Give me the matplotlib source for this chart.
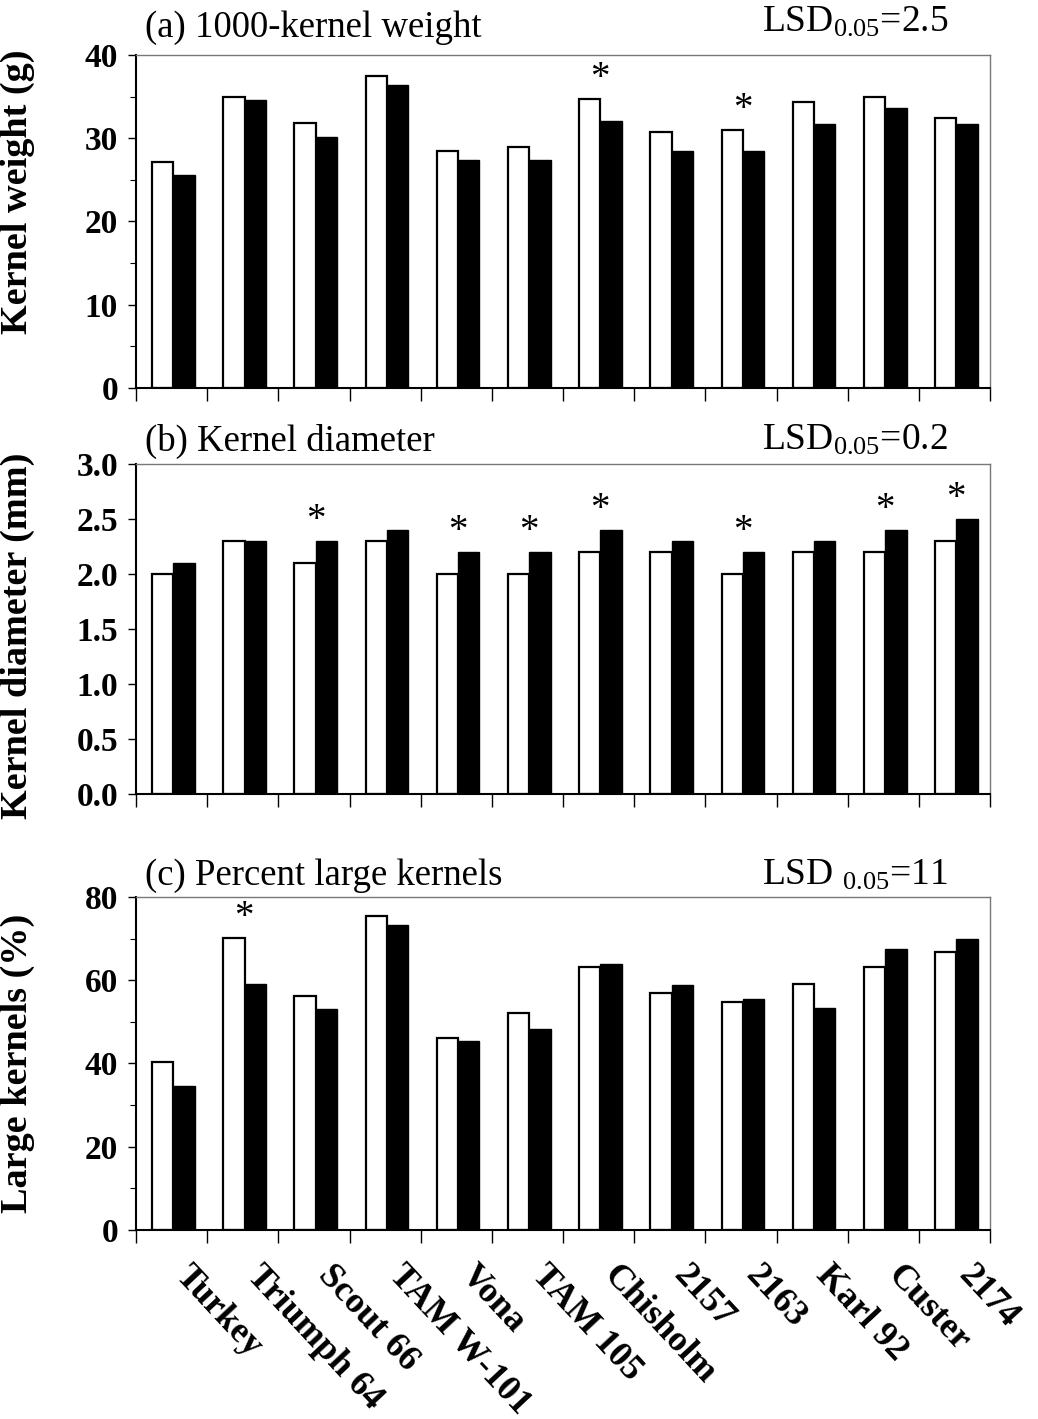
import matplotlib
matplotlib.use("Agg")
import matplotlib.pyplot as plt
import numpy as np
from matplotlib.ticker import FormatStrFormatter

plt.rcParams['font.family'] = ['Liberation Serif', 'DejaVu Serif']
plt.rcParams['mathtext.fontset'] = 'custom'
plt.rcParams['mathtext.rm'] = 'Liberation Serif'
plt.rcParams['mathtext.it'] = 'Liberation Serif:italic'
plt.rcParams['mathtext.bf'] = 'Liberation Serif:bold'

# ---------------- data ----------------
cultivars = ['Turkey', 'Triumph 64', 'Scout 66', 'TAM W-101', 'Vona', 'TAM 105',
             'Chisholm', '2157', '2163', 'Karl 92', 'Custer', '2174']

kw_white = [27.1, 34.9, 31.8, 37.5, 28.5, 28.9, 34.7, 30.7, 31.0, 34.3, 35.0, 32.4]
kw_black = [25.6, 34.6, 30.1, 36.4, 27.4, 27.4, 32.1, 28.4, 28.4, 31.7, 33.6, 31.7]
kw_sig = ['Chisholm', '2163']

kd_white = [2.0, 2.3, 2.1, 2.3, 2.0, 2.0, 2.2, 2.2, 2.0, 2.2, 2.2, 2.3]
kd_black = [2.1, 2.3, 2.3, 2.4, 2.2, 2.2, 2.4, 2.3, 2.2, 2.3, 2.4, 2.5]
kd_sig = ['Scout 66', 'Vona', 'TAM 105', 'Chisholm', '2163', 'Custer', '2174']

lk_white = [40.4, 70.2, 56.2, 75.4, 46.1, 52.1, 63.2, 57.0, 54.7, 59.2, 63.2, 66.7]
lk_black = [34.5, 59.1, 53.1, 73.3, 45.5, 48.3, 63.8, 58.8, 55.6, 53.3, 67.6, 69.9]
lk_sig = ['Triumph 64']

panels = [
    dict(white=kw_white, black=kw_black, sig=kw_sig, title='(a) 1000-kernel weight',
         lsd=r'LSD$_{\mathrm{0.05}}$=2.5', ylabel='Kernel weight (g)',
         ylim=40, major=[0, 10, 20, 30, 40], minor=[5, 15, 25, 35], fmt='%d',
         rect=[0.131, 0.7266, 0.823, 0.2347], title_off=18, lsd_off=23, ylab_y=0.59),
    dict(white=kd_white, black=kd_black, sig=kd_sig, title='(b) Kernel diameter',
         lsd=r'LSD$_{\mathrm{0.05}}$=0.2', ylabel='Kernel diameter (mm)',
         ylim=3.0, major=[0, 0.5, 1.0, 1.5, 2.0, 2.5, 3.0], minor=[], fmt='%.1f',
         rect=[0.131, 0.4405, 0.823, 0.2326], title_off=13, lsd_off=14, ylab_y=0.48),
    dict(white=lk_white, black=lk_black, sig=lk_sig, title='(c) Percent large kernels',
         lsd=r'LSD $_{\mathrm{0.05}}$=11', ylabel='Large kernels (%)',
         ylim=80, major=[0, 20, 40, 60, 80], minor=[10, 30, 50, 70], fmt='%d',
         rect=[0.131, 0.1332, 0.823, 0.2347], title_off=12, lsd_off=12, ylab_y=0.50),
]

fig = plt.figure(figsize=(10.38, 14.19), dpi=100)
n = len(cultivars)
x = np.arange(n)
bw = 0.30

for k, p in enumerate(panels):
    ax = fig.add_axes(p['rect'])
    ax.bar(x + 0.375, p['white'], width=bw, color='white', edgecolor='black', linewidth=1.6)
    ax.bar(x + 0.675, p['black'], width=bw, color='black', edgecolor='black', linewidth=1.0)
    ax.set_xlim(0, n)
    ax.set_ylim(0, p['ylim'])

    # significance asterisks
    for name in p['sig']:
        i = cultivars.index(name)
        top = max(p['white'][i], p['black'][i])
        ax.annotate('*', xy=(i + 0.52, top), xytext=(0, 11), textcoords='offset pixels',
                    ha='center', va='baseline', fontsize=28)

    # y axis
    ax.set_yticks(p['major'])
    ax.set_yticks(p['minor'], minor=True)
    ax.yaxis.set_major_formatter(FormatStrFormatter(p['fmt']))
    ax.tick_params(axis='y', which='major', direction='out', length=6, width=1.0, pad=7,
                   labelsize=24)
    ax.tick_params(axis='y', which='minor', direction='out', length=4, width=0.8)
    for lab in ax.get_yticklabels():
        lab.set_fontweight('bold')
    ax.set_ylabel(p['ylabel'], fontsize=27.5, fontweight='bold')
    ax.yaxis.set_label_coords(-0.118, p['ylab_y'])

    # x axis
    ax.set_xticks(np.arange(n + 1))
    ax.tick_params(axis='x', which='major', direction='out', length=9, width=1.0,
                   labelbottom=False)
    if k == 2:
        ax.set_xticks(x + 0.8, labels=cultivars, minor=True)
        ax.tick_params(axis='x', which='minor', length=0, pad=21)
        for lab in ax.get_xticklabels(minor=True):
            lab.set_rotation(-47)
            lab.set_ha('left')
            lab.set_va('top')
            lab.set_rotation_mode('anchor')
            lab.set_fontweight('bold')
            lab.set_fontsize(26)

    # spines
    for s in ['left', 'bottom']:
        ax.spines[s].set_color('black')
        ax.spines[s].set_linewidth(1.5)
    for s in ['top', 'right']:
        ax.spines[s].set_color('#777777')
        ax.spines[s].set_linewidth(1.0)

    h_px = p['rect'][3] * 1419
    ax.text(0.011, 1 + p['title_off'] / h_px, p['title'], transform=ax.transAxes,
            ha='left', va='baseline', fontsize=26.5)
    ax.text(0.733, 1 + p['lsd_off'] / h_px, p['lsd'], transform=ax.transAxes,
            ha='left', va='baseline', fontsize=27)

fig.savefig('out.png', dpi=100)
